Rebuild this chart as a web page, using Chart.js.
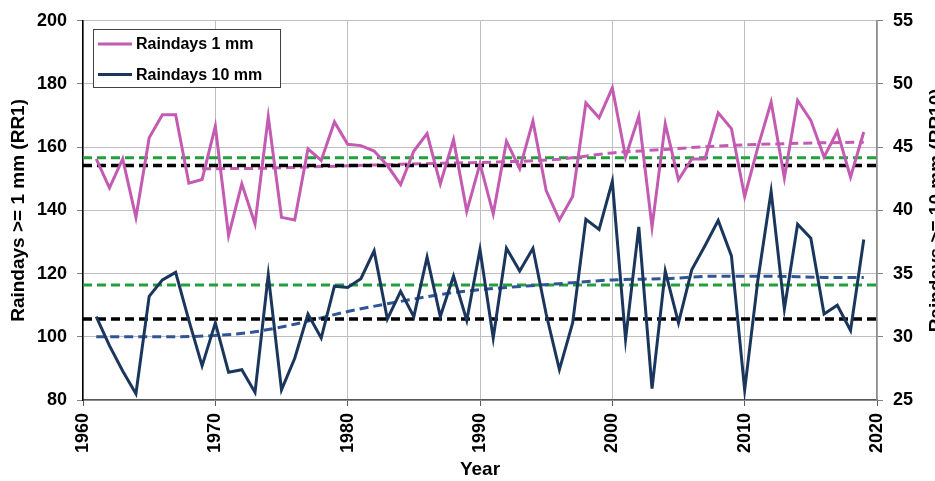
<!DOCTYPE html>
<html>
<head>
<meta charset="utf-8">
<title>Raindays</title>
<script src="https://cdn.jsdelivr.net/npm/chart.js@4.4.0/dist/chart.umd.min.js"></script>
<style>
  html, body { margin: 0; padding: 0; background: #fff; overflow: hidden; }
</style>
</head>
<body>
<canvas id="canvas" width="935" height="481"></canvas>
<script>
// Yearly counts of rain days
var years = [1961, 1962, 1963, 1964, 1965, 1966, 1967, 1968, 1969, 1970,
             1971, 1972, 1973, 1974, 1975, 1976, 1977, 1978, 1979, 1980,
             1981, 1982, 1983, 1984, 1985, 1986, 1987, 1988, 1989, 1990,
             1991, 1992, 1993, 1994, 1995, 1996, 1997, 1998, 1999, 2000,
             2001, 2002, 2003, 2004, 2005, 2006, 2007, 2008, 2009, 2010,
             2011, 2012, 2013, 2014, 2015, 2016, 2017, 2018, 2019]
var rr1 = [156.3, 147.1, 156.3, 137.8, 163.0, 170.3, 170.3, 148.6, 149.8, 166.6,
           132.0, 148.4, 135.7, 169.6, 137.8, 137.0, 159.5, 155.8, 168.0, 160.9,
           160.5, 158.8, 154.2, 148.2, 158.8, 164.3, 148.4, 162.4, 139.7, 154.8,
           138.9, 161.9, 153.2, 168.3, 146.3, 137.0, 144.4, 174.0, 169.3, 178.8,
           156.9, 169.8, 134.7, 167.4, 149.7, 156.3, 156.3, 170.9, 165.9, 144.4,
           160.0, 174.3, 150.3, 174.8, 168.5, 156.9, 165.0, 150.5, 164.8]
var rr10 = [31.6, 29.3, 27.3, 25.5, 33.2, 34.5, 35.1, 31.3, 27.7, 31.1,
            27.2, 27.4, 25.6, 34.9, 25.8, 28.3, 31.8, 29.9, 34.0, 33.9,
            34.6, 36.8, 31.4, 33.6, 31.6, 36.3, 31.6, 34.8, 31.3, 36.9,
            29.9, 37.0, 35.2, 37.0, 31.8, 27.4, 31.1, 39.3, 38.5, 42.3,
            29.8, 38.7, 25.9, 35.2, 31.1, 35.3, 37.2, 39.2, 36.4, 25.8,
            34.5, 41.5, 32.2, 38.9, 37.8, 31.8, 32.5, 30.5, 37.7]

// smoothed trends
var rr1TrendYears = [1969, 1973, 1976, 1980, 1984, 1988, 1992, 1996, 2000, 2004, 2008, 2012, 2016, 2019]
var rr1Trend = [153.2, 153.3, 153.6, 154.1, 154.6, 155.0, 155.4, 156.2, 158.2, 159.3, 160.4, 161.0, 161.4, 161.6]
var rr10TrendYears = [1961, 1965, 1970, 1973, 1976, 1980, 1984, 1988, 1992, 1996, 2000, 2004, 2008, 2012, 2016, 2019]
var rr10Trend = [30.0, 30.0, 30.1, 30.4, 31.0, 32.0, 32.8, 33.5, 33.9, 34.2, 34.5, 34.6, 34.8, 34.8, 34.7, 34.7]

// reference levels: [black, green]
var rr1Levels = [154.2, 156.7]
var rr10Levels = [31.4, 34.1]

var yearTicks = [1960, 1970, 1980, 1990, 2000, 2010, 2020]
var rr1Ticks = [80, 100, 120, 140, 160, 180, 200]
var rr10Ticks = [25, 30, 35, 40, 45, 50, 55]

var pink = '#C45BB2'
var navy = '#1B365D'
var font = 'Liberation Sans, Arial, sans-serif'

function pairs(xs, ys) {
    return xs.map(function(x, i) { return {x: x, y: ys[i]} })
}

function level(v, color, axis, width) {
    return {
        data: [{x: yearTicks[0], y: v}, {x: yearTicks[yearTicks.length - 1], y: v}],
        yAxisID: axis,
        borderColor: color,
        borderWidth: width,
        borderDash: [9, 5],
        pointRadius: 0
    }
}

// legend box and right axis title
var extras = {
    id: 'extras',
    afterDraw: function(chart) {
        var ctx = chart.ctx
        ctx.save()
        ctx.fillStyle = '#fff'
        ctx.fillRect(93.5, 29.5, 187, 58)
        ctx.strokeStyle = '#404040'
        ctx.lineWidth = 1
        ctx.strokeRect(93.5, 29.5, 187, 58)
        ctx.font = 'bold 16px ' + font
        ctx.textBaseline = 'middle'
        for (var k = 0; k < 2; k++) {
            var ds = chart.data.datasets[k]
            var y = 44 + k * 30.5
            ctx.strokeStyle = ds.borderColor
            ctx.lineWidth = 3
            ctx.beginPath()
            ctx.moveTo(98, y)
            ctx.lineTo(132, y)
            ctx.stroke()
            ctx.fillStyle = '#000'
            ctx.fillText(ds.label, 136, y + 1)
        }
        ctx.font = 'bold 19px ' + font
        ctx.translate(937, (chart.chartArea.top + chart.chartArea.bottom) / 2)
        ctx.rotate(-Math.PI / 2)
        ctx.textAlign = 'center'
        ctx.fillText('Raindays >= 10 mm (RR10)', 0, 0)
        ctx.restore()
    }
}

var ctx = document.getElementById('canvas').getContext('2d')
var config = {
    type: 'line',
    data: {
        datasets: [{
            label: 'Raindays 1 mm',
            data: pairs(years, rr1),
            yAxisID: 'y',
            borderColor: pink,
            borderWidth: 3,
            pointRadius: 0
        }, {
            label: 'Raindays 10 mm',
            data: pairs(years, rr10),
            yAxisID: 'y2',
            borderColor: navy,
            borderWidth: 3,
            pointRadius: 0
        },
        level(rr1Levels[0], '#000', 'y', 3.5),
        level(rr10Levels[0], '#000', 'y2', 3.5),
        {
            data: pairs(rr1TrendYears, rr1Trend),
            yAxisID: 'y',
            borderColor: pink,
            borderWidth: 3,
            borderDash: [9, 5],
            cubicInterpolationMode: 'monotone',
            pointRadius: 0
        }, {
            data: pairs(rr10TrendYears, rr10Trend),
            yAxisID: 'y2',
            borderColor: '#2F5597',
            borderWidth: 3,
            borderDash: [9, 5],
            cubicInterpolationMode: 'monotone',
            pointRadius: 0
        },
        level(rr1Levels[1], '#22A03C', 'y', 3),
        level(rr10Levels[1], '#22A03C', 'y2', 3)]
    },
    options: {
        responsive: false,
        animation: false,
        layout: {padding: {top: 20, left: 0, right: 0, bottom: 0}},
        plugins: {legend: {display: false}, tooltip: {enabled: false}},
        scales: {
            x: {
                type: 'linear',
                min: yearTicks[0],
                max: yearTicks[yearTicks.length - 1],
                afterBuildTicks: function(s) { s.ticks = yearTicks.map(function(v) { return {value: v} }) },
                afterFit: function(s) { s.height = 81 },
                ticks: {
                    minRotation: 90, maxRotation: 90, padding: 7,
                    color: '#000', font: {family: font, size: 18, weight: 'bold'},
                    callback: function(v) { return String(v) }
                },
                grid: {color: '#BFBFBF', tickColor: '#595959', tickLength: 6},
                border: {color: '#595959', width: 1.5},
                title: {display: true, text: 'Year', color: '#000', padding: {top: 0, bottom: 0},
                        font: {family: font, size: 19, weight: 'bold'}}
            },
            y: {
                position: 'left',
                min: rr1Ticks[0],
                max: rr1Ticks[rr1Ticks.length - 1],
                afterBuildTicks: function(s) { s.ticks = rr1Ticks.map(function(v) { return {value: v} }) },
                afterFit: function(s) { s.width = 83 },
                ticks: {padding: 10, color: '#000', font: {family: font, size: 18, weight: 'bold'}},
                grid: {color: '#BFBFBF', tickColor: '#808080', tickLength: 6},
                border: {color: '#000', width: 1.5},
                title: {display: true, text: 'Raindays >= 1 mm (RR1)', color: '#000', padding: {top: 7, bottom: 0},
                        font: {family: font, size: 19, weight: 'bold'}}
            },
            y2: {
                position: 'right',
                min: rr10Ticks[0],
                max: rr10Ticks[rr10Ticks.length - 1],
                afterBuildTicks: function(s) { s.ticks = rr10Ticks.map(function(v) { return {value: v} }) },
                afterFit: function(s) { s.width = 58 },
                ticks: {padding: 10, color: '#000', font: {family: font, size: 18, weight: 'bold'}},
                grid: {drawOnChartArea: false, tickColor: '#808080', tickLength: 6},
                border: {color: '#8C8C8C', width: 1.5}
            }
        }
    },
    plugins: [extras]
}

var mychart = new Chart(ctx, config)
</script>
</body>
</html>
